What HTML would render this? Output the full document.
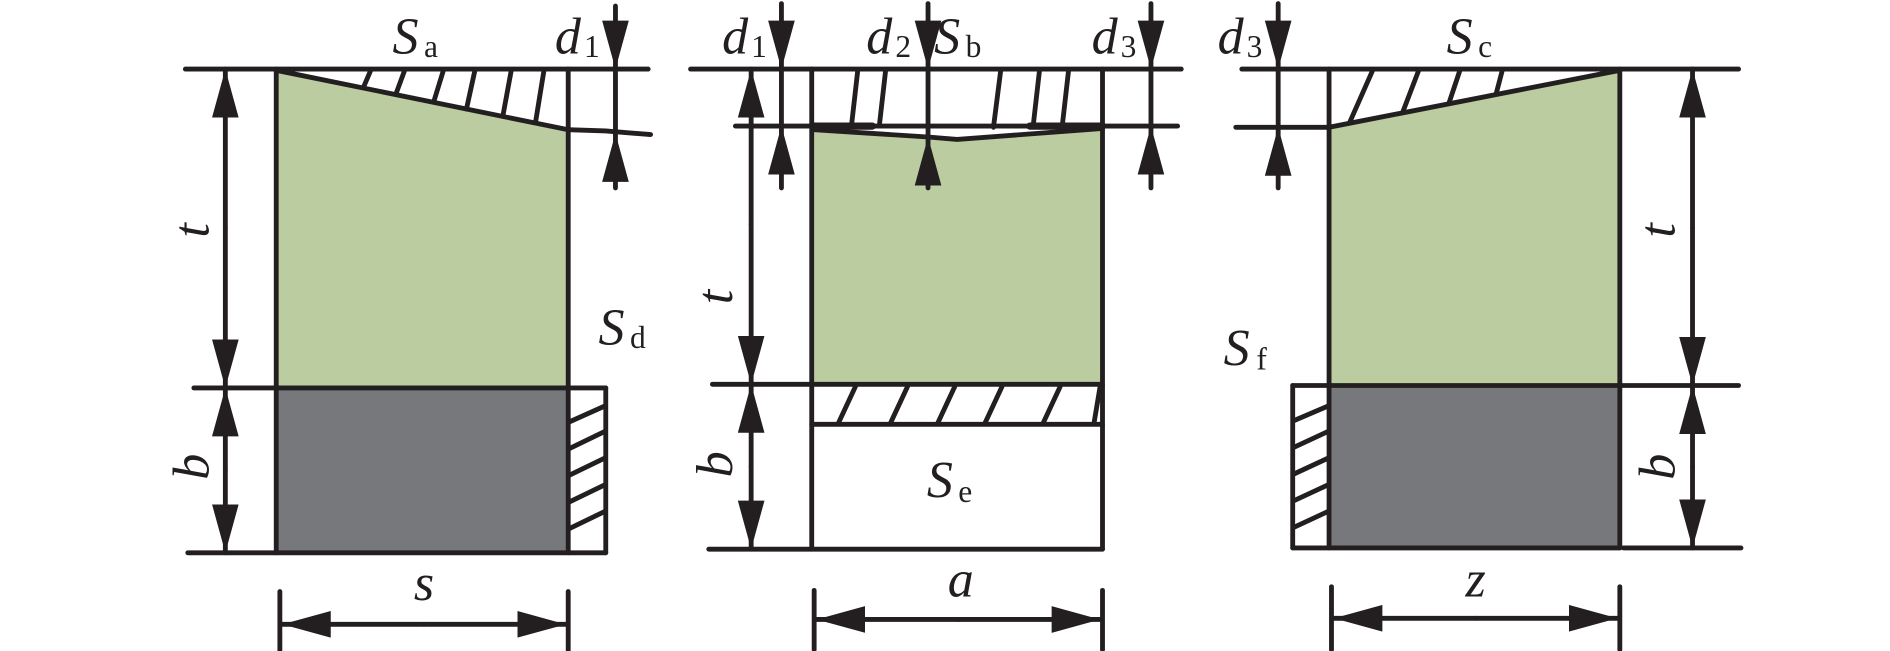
<!DOCTYPE html>
<html><head><meta charset="utf-8"><style>
html,body{margin:0;padding:0;background:#fff;width:1890px;height:651px;overflow:hidden}
svg{display:block}
text{font-family:"Liberation Serif",serif;fill:#231f20}
.i{font-style:italic}
</style></head><body>
<svg width="1890" height="651" viewBox="0 0 1560 537" preserveAspectRatio="none" xmlns="http://www.w3.org/2000/svg">
<defs>
<marker id="ah" viewBox="0 0 40 22" refX="40" refY="11" markerWidth="40" markerHeight="22" markerUnits="userSpaceOnUse" orient="auto-start-reverse">
<path d="M0,0 L40,11 L0,22 z" fill="#231f20"/></marker>
</defs>
<g stroke="#231f20" stroke-width="4" stroke-linecap="round" fill="none">
<!-- PANEL 1 -->
<polygon points="228,58 469,107 469,320 228,320" fill="#bacca0" stroke="none"/>
<rect x="228" y="320" width="241" height="136" fill="#77787c" stroke="none"/>
<line x1="153" y1="57" x2="535" y2="57"/>
<polyline points="228,58 469,107 500,108 537,111"/>
<line x1="228" y1="57" x2="228" y2="456"/>
<line x1="469" y1="57" x2="469" y2="456"/>
<line x1="160" y1="320" x2="500" y2="320"/>
<line x1="155" y1="456" x2="500" y2="456"/>
<line x1="500" y1="320" x2="500" y2="456"/>
<g>
<line x1="300" y1="72" x2="306" y2="58"/><line x1="327" y1="77" x2="334" y2="58"/>
<line x1="358" y1="84" x2="366" y2="58"/><line x1="385" y1="90" x2="392" y2="58"/>
<line x1="415" y1="96" x2="422" y2="58"/><line x1="442" y1="101" x2="449" y2="58"/>
<line x1="470" y1="348" x2="499" y2="335"/><line x1="470" y1="370" x2="499" y2="356"/>
<line x1="470" y1="392" x2="499" y2="378"/><line x1="470" y1="414" x2="499" y2="400"/>
<line x1="470" y1="436" x2="499" y2="422"/>
</g>
<line x1="186" y1="188" x2="186" y2="57" marker-end="url(#ah)"/>
<line x1="186" y1="188" x2="186" y2="320" marker-end="url(#ah)"/>
<line x1="186" y1="388" x2="186" y2="320" marker-end="url(#ah)"/>
<line x1="186" y1="388" x2="186" y2="456" marker-end="url(#ah)"/>
<line x1="508" y1="5" x2="508" y2="57" marker-end="url(#ah)"/>
<line x1="508" y1="57" x2="508" y2="110"/>
<line x1="508" y1="155" x2="508" y2="110" marker-end="url(#ah)"/>
<line x1="231" y1="488" x2="231" y2="537"/><line x1="469" y1="488" x2="469" y2="537"/>
<line x1="350" y1="515" x2="233" y2="515" marker-end="url(#ah)"/>
<line x1="350" y1="515" x2="467" y2="515" marker-end="url(#ah)"/>

<!-- PANEL 2 -->
<polygon points="672,107 790,115 910,106 910,317 672,317" fill="#bacca0" stroke="none"/>
<line x1="570" y1="57" x2="975" y2="57"/>
<line x1="607" y1="104" x2="972" y2="104"/>
<polyline points="672,107 766,113 790,115 910,106"/>
<line x1="672" y1="104" x2="720" y2="104" stroke-width="6"/>
<line x1="850" y1="104" x2="910" y2="104" stroke-width="6"/>
<line x1="670" y1="57" x2="670" y2="453"/>
<line x1="910" y1="57" x2="910" y2="453"/>
<line x1="588" y1="317" x2="910" y2="317"/>
<line x1="670" y1="350" x2="910" y2="350"/>
<line x1="585" y1="453" x2="910" y2="453"/>
<g>
<line x1="703" y1="102" x2="708" y2="58"/><line x1="726" y1="102" x2="731" y2="58"/>
<line x1="820" y1="105" x2="826" y2="58"/><line x1="853" y1="102" x2="858" y2="58"/>
<line x1="877" y1="102" x2="882" y2="58"/>
<line x1="692" y1="349" x2="706" y2="319"/><line x1="735" y1="349" x2="749" y2="319"/>
<line x1="774" y1="349" x2="788" y2="319"/><line x1="813" y1="349" x2="827" y2="319"/>
<line x1="861" y1="349" x2="875" y2="319"/><line x1="903" y1="349" x2="908" y2="319"/>
</g>
<line x1="620" y1="185" x2="620" y2="57" marker-end="url(#ah)"/>
<line x1="620" y1="185" x2="620" y2="317" marker-end="url(#ah)"/>
<line x1="620" y1="385" x2="620" y2="317" marker-end="url(#ah)"/>
<line x1="620" y1="385" x2="620" y2="453" marker-end="url(#ah)"/>
<line x1="645" y1="3" x2="645" y2="57" marker-end="url(#ah)"/>
<line x1="645" y1="57" x2="645" y2="104"/>
<line x1="645" y1="155" x2="645" y2="104" marker-end="url(#ah)"/>
<line x1="766" y1="3" x2="766" y2="57" marker-end="url(#ah)"/>
<line x1="766" y1="57" x2="766" y2="113"/>
<line x1="766" y1="155" x2="766" y2="113" marker-end="url(#ah)"/>
<line x1="950" y1="3" x2="950" y2="57" marker-end="url(#ah)"/>
<line x1="950" y1="57" x2="950" y2="104"/>
<line x1="950" y1="155" x2="950" y2="104" marker-end="url(#ah)"/>
<line x1="672" y1="487" x2="672" y2="536"/><line x1="910" y1="487" x2="910" y2="536"/>
<line x1="791" y1="511" x2="674" y2="511" marker-end="url(#ah)"/>
<line x1="791" y1="511" x2="908" y2="511" marker-end="url(#ah)"/>

<!-- PANEL 3 -->
<polygon points="1097,105 1337,57 1337,318 1097,318" fill="#bacca0" stroke="none"/>
<rect x="1097" y="318" width="240" height="134" fill="#77787c" stroke="none"/>
<line x1="1025" y1="57" x2="1435" y2="57"/>
<line x1="1020" y1="105" x2="1097" y2="105"/>
<line x1="1097" y1="105" x2="1337" y2="58"/>
<line x1="1097" y1="57" x2="1097" y2="452"/>
<line x1="1337" y1="57" x2="1337" y2="452"/>
<line x1="1067" y1="318" x2="1435" y2="318"/>
<line x1="1067" y1="452" x2="1337" y2="452"/>
<line x1="1340" y1="452" x2="1437" y2="452"/>
<line x1="1067" y1="318" x2="1067" y2="452"/>
<g>
<line x1="1114" y1="101" x2="1133" y2="58"/><line x1="1158" y1="92" x2="1171" y2="58"/>
<line x1="1196" y1="85" x2="1205" y2="58"/><line x1="1235" y1="77" x2="1240" y2="58"/>
<line x1="1068" y1="347" x2="1096" y2="335"/><line x1="1068" y1="369" x2="1096" y2="356"/>
<line x1="1068" y1="391" x2="1096" y2="378"/><line x1="1068" y1="413" x2="1096" y2="400"/>
<line x1="1068" y1="435" x2="1096" y2="422"/>
</g>
<line x1="1055" y1="3" x2="1055" y2="57" marker-end="url(#ah)"/>
<line x1="1055" y1="57" x2="1055" y2="105"/>
<line x1="1055" y1="155" x2="1055" y2="105" marker-end="url(#ah)"/>
<line x1="1397" y1="188" x2="1397" y2="57" marker-end="url(#ah)"/>
<line x1="1397" y1="188" x2="1397" y2="318" marker-end="url(#ah)"/>
<line x1="1397" y1="385" x2="1397" y2="318" marker-end="url(#ah)"/>
<line x1="1397" y1="385" x2="1397" y2="452" marker-end="url(#ah)"/>
<line x1="1099" y1="484" x2="1099" y2="536"/><line x1="1337" y1="484" x2="1337" y2="536"/>
<line x1="1218" y1="510" x2="1101" y2="510" marker-end="url(#ah)"/>
<line x1="1218" y1="510" x2="1335" y2="510" marker-end="url(#ah)"/>
</g>

<g font-size="43">
<text x="324" y="44" class="i">S</text><text x="350" y="47" font-size="26">a</text>
<text x="458" y="44" class="i">d</text><text x="482" y="47" font-size="26">1</text>
<text x="494" y="284" class="i">S</text><text x="520" y="287" font-size="26">d</text>
<text transform="translate(172,190) rotate(-90)" class="i" text-anchor="middle">t</text>
<text transform="translate(172,385) rotate(-90)" class="i" text-anchor="middle">b</text>
<text x="350" y="495" class="i" text-anchor="middle">s</text>

<text x="596" y="44" class="i">d</text><text x="620" y="47" font-size="26">1</text>
<text x="715" y="44" class="i">d</text><text x="739" y="47" font-size="26">2</text>
<text x="771" y="44" class="i">S</text><text x="797" y="47" font-size="26">b</text>
<text x="901" y="44" class="i">d</text><text x="925" y="47" font-size="26">3</text>
<text transform="translate(604,245) rotate(-90)" class="i" text-anchor="middle">t</text>
<text transform="translate(604,383) rotate(-90)" class="i" text-anchor="middle">b</text>
<text x="765" y="410" class="i">S</text><text x="791" y="414" font-size="26">e</text>
<text x="793" y="492" class="i" text-anchor="middle">a</text>

<text x="1005" y="44" class="i">d</text><text x="1029" y="47" font-size="26">3</text>
<text x="1194" y="44" class="i">S</text><text x="1220" y="47" font-size="26">c</text>
<text x="1010" y="301" class="i">S</text><text x="1037" y="305" font-size="26">f</text>
<text transform="translate(1382,190) rotate(-90)" class="i" text-anchor="middle">t</text>
<text transform="translate(1382,385) rotate(-90)" class="i" text-anchor="middle">b</text>
<text x="1218" y="492" class="i" text-anchor="middle">z</text>
</g>
</svg>
</body></html>
